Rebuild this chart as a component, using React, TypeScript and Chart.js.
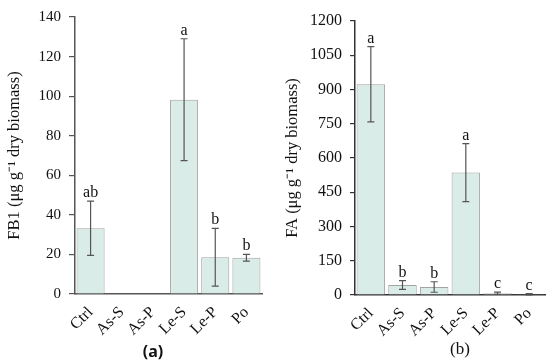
import React, { useEffect, useRef } from 'react';
import { Chart, registerables } from 'chart.js';
Chart.register(...registerables);

const categories = ['Ctrl', 'As-S', 'As-P', 'Le-S', 'Le-P', 'Po'];

const fb1Values = [33.2, 0, 0, 98.2, 18.6, 18.3];
const fb1Sd = [13.7, 0, 0, 30.8, 14.6, 1.7];
const fb1Letters = ['ab', '', '', 'a', 'b', 'b'];
const fb1Max = 140;
const fb1Step = 20;

const faValues = [923, 44, 35, 536, 8, 3];
const faSd = [165, 19, 23, 127, 5, 3];
const faLetters = ['a', 'b', 'b', 'a', 'c', 'c'];
const faMax = 1200;
const faStep = 150;

const SERIF = '"Liberation Serif", "Times New Roman", serif';

const errorBarPlugin = {
  id: 'errorBars',
  afterDatasetsDraw(chart: any, _args: any, opts: any) {
    const { ctx } = chart;
    const meta = chart.getDatasetMeta(0);
    const y = chart.scales.y;
    ctx.save();
    meta.data.forEach((bar: any, i: number) => {
      const v = opts.values[i];
      const sd = opts.sd[i];
      const x = bar.x;
      let topPx = y.getPixelForValue(v);
      if (sd > 0) {
        const hi = y.getPixelForValue(v + sd);
        const lo = y.getPixelForValue(Math.max(0, v - sd));
        topPx = hi;
        ctx.strokeStyle = opts.color;
        ctx.lineWidth = 1.2;
        ctx.beginPath();
        ctx.moveTo(x, hi);
        ctx.lineTo(x, lo);
        ctx.moveTo(x - opts.cap, hi);
        ctx.lineTo(x + opts.cap, hi);
        ctx.moveTo(x - opts.cap, lo);
        ctx.lineTo(x + opts.cap, lo);
        ctx.stroke();
      }
      const letter = opts.letters[i];
      if (letter) {
        ctx.fillStyle = '#111';
        ctx.font = opts.font;
        ctx.textAlign = 'center';
        ctx.textBaseline = 'alphabetic';
        ctx.fillText(letter, x, topPx - 4);
      }
    });
    ctx.restore();
  },
};

type PanelProps = {
  values: number[];
  sd: number[];
  letters: string[];
  max: number;
  step: number;
  title: string;
  titleSize: number;
  axisWidth: number;
  xHeight: number;
  padTop: number;
  padRight: number;
  tickSize: number;
  titlePad: number;
  axisColor: string;
  tickLen: number;
  tickPad: number;
};

function Panel(p: PanelProps) {
  const ref = useRef<HTMLCanvasElement | null>(null);
  useEffect(() => {
    if (!ref.current) return;
    const chart = new Chart(ref.current, {
      type: 'bar',
      data: {
        labels: categories,
        datasets: [
          {
            data: p.values,
            backgroundColor: '#daece7',
            borderColor: '#a3a3a3',
            borderWidth: 1,
            barPercentage: 0.9,
            categoryPercentage: 1,
          },
        ],
      },
      plugins: [errorBarPlugin],
      options: {
        animation: false,
        responsive: false,
        devicePixelRatio: 1,
        layout: { padding: { top: p.padTop, right: p.padRight, left: 0, bottom: 0 } },
        plugins: {
          legend: { display: false },
          tooltip: { enabled: false },
          errorBars: {
            values: p.values,
            sd: p.sd,
            letters: p.letters,
            cap: 3.5,
            color: '#555',
            font: `16px ${SERIF}`,
          },
        } as any,
        scales: {
          x: {
            grid: { display: false },
            border: { display: true, color: p.axisColor, width: 1.5 },
            ticks: {
              minRotation: 45,
              maxRotation: 45,
              autoSkip: false,
              padding: 1,
              color: '#111',
              font: { family: SERIF, size: 16 },
            },
            afterFit: (s: any) => {
              s.height = p.xHeight;
            },
          },
          y: {
            min: 0,
            max: p.max,
            grid: {
              display: true,
              drawOnChartArea: false,
              drawTicks: true,
              tickLength: p.tickLen,
              color: p.axisColor,
              lineWidth: 1.2,
            },
            border: { display: true, color: p.axisColor, width: 1.5 },
            ticks: {
              stepSize: p.step,
              padding: p.tickPad,
              color: '#111',
              font: { family: SERIF, size: p.tickSize },
              callback: (v: any) => String(v),
            },
            title: {
              display: true,
              text: p.title,
              color: '#111',
              font: { family: SERIF, size: p.titleSize },
              padding: { top: p.titlePad, bottom: 0 },
            },
            afterFit: (s: any) => {
              s.width = p.axisWidth;
            },
          },
        },
      } as any,
    });
    return () => chart.destroy();
  }, []);
  return <canvas ref={ref} width={275} height={360} style={{ display: 'block' }} />;
}

export default function App() {
  return (
    <div style={{ position: 'fixed', left: 0, top: 0, width: 550, height: 360, background: '#fff' }}>
      <div style={{ position: 'absolute', left: 0, top: 0 }}>
        <Panel
          values={fb1Values}
          sd={fb1Sd}
          letters={fb1Letters}
          max={fb1Max}
          step={fb1Step}
          title="FB1 (μg g⁻¹ dry biomass)"
          titleSize={16.5}
          axisWidth={75}
          xHeight={66}
          padTop={16}
          padRight={13}
          tickSize={15}
          titlePad={5}
          axisColor="#555"
          tickLen={6}
          tickPad={8}
        />
      </div>
      <div style={{ position: 'absolute', left: 275, top: 0 }}>
        <Panel
          values={faValues}
          sd={faSd}
          letters={faLetters}
          max={faMax}
          step={faStep}
          title="FA (μg g⁻¹ dry biomass)"
          titleSize={16.5}
          axisWidth={80}
          xHeight={65}
          padTop={21}
          padRight={5}
          tickSize={16}
          titlePad={8}
          axisColor="#333"
          tickLen={5}
          tickPad={8}
        />
      </div>
      <div
        style={{
          position: 'absolute',
          left: 123,
          width: 60,
          top: 342,
          textAlign: 'center',
          font: '700 16px "Noto Sans", sans-serif',
          lineHeight: '18px',
          color: '#111',
        }}
      >
        (a)
      </div>
      <div
        style={{
          position: 'absolute',
          left: 430,
          width: 60,
          top: 340,
          textAlign: 'center',
          font: `17px ${SERIF}`,
          lineHeight: '18px',
          color: '#111',
        }}
      >
        (b)
      </div>
    </div>
  );
}
